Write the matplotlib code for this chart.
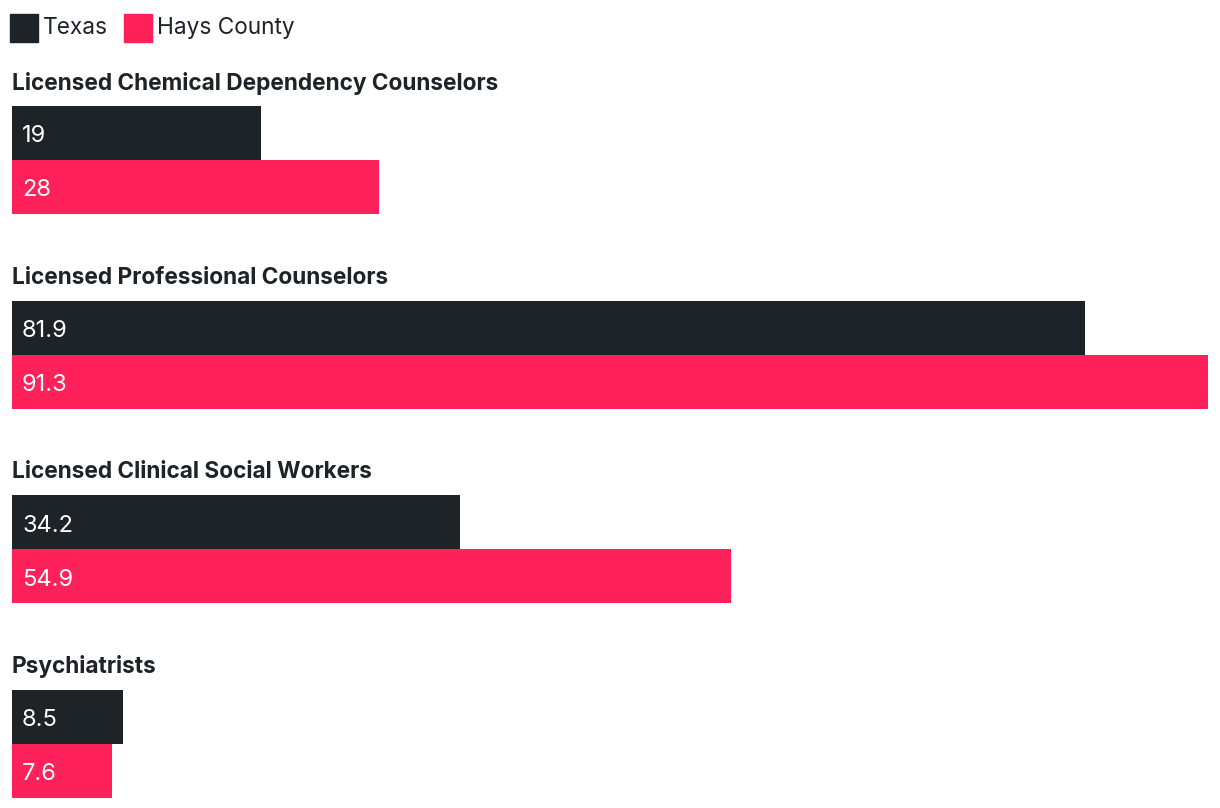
import matplotlib
matplotlib.use("Agg")
import matplotlib.pyplot as plt
from matplotlib.patches import Rectangle

# data
categories = ["Licensed Chemical Dependency Counselors",
              "Licensed Professional Counselors",
              "Licensed Clinical Social Workers",
              "Psychiatrists"]
texas = [19, 81.9, 34.2, 8.5]
hays = [28, 91.3, 54.9, 7.6]
series_names = ["Texas", "Hays County"]

dark = "#1d2327"
pink = "#ff215a"

plt.rcParams['font.family'] = ['Inter', 'DejaVu Sans']

W, H = 1220, 808
fig = plt.figure(figsize=(W / 100, H / 100), dpi=100)
ax = fig.add_axes([0, 0, 1, 1])
ax.set_axis_off()

#pixels per unit of value
ppu = (1208 - 12) / 91.3
x0 = 12 / ppu
ax.set_xlim(-x0, (W - 12) / ppu)
ax.set_ylim(H, 0)

bar_h = 54
first_top = 106
step = 194.5
pad = 10 / ppu

for i, cat in enumerate(categories):
    top = first_top + i * step
    ax.text(0, top - 25, cat, fontsize=16.3, fontweight='bold', color=dark,
            va='center_baseline', ha='left')
    ax.barh(top + bar_h / 2, texas[i], height=bar_h, left=0, color=dark)
    ax.barh(top + bar_h * 1.5, hays[i], height=bar_h, left=0, color=pink)
    ax.text(pad, top + bar_h / 2 + 1, f"{texas[i]:g}", fontsize=17, color='white',
            va='center_baseline', ha='left')
    ax.text(pad, top + bar_h * 1.5 + 1, f"{hays[i]:g}", fontsize=17, color='white',
            va='center_baseline', ha='left')

# legend drawn by hand in pixel space
fig_tr = fig.transFigure
leg = [(10, series_names[0], dark), (124, series_names[1], pink)]
for lx, name, col in leg:
    fig.patches.append(Rectangle((lx / W, 1 - 42 / H), 28 / W, 28 / H,
                                 transform=fig_tr, color=col))
    fig.text((lx + 33) / W, 1 - 34 / H, name, fontsize=16.3, color=dark,
             va='baseline', ha='left')

fig.savefig("out.png", dpi=100)
